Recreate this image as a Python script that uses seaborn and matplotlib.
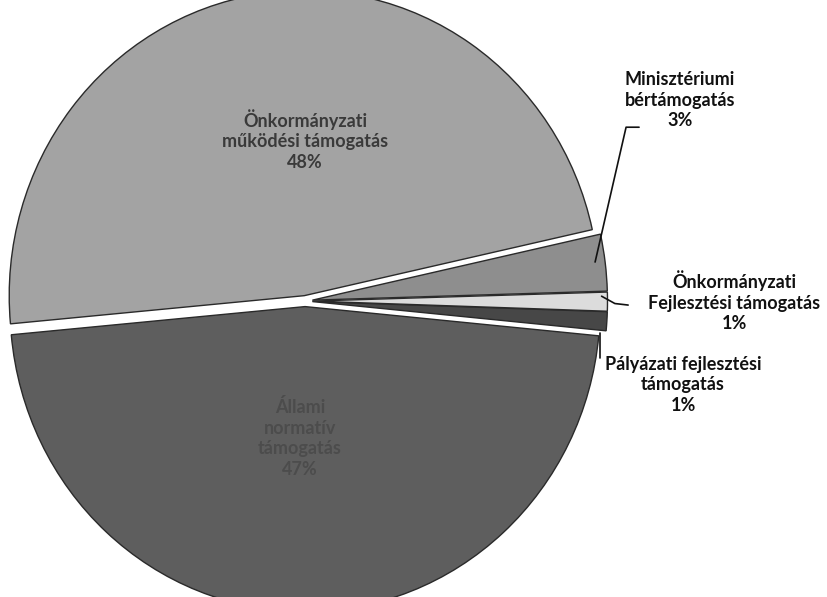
import matplotlib
matplotlib.use("Agg")
import matplotlib.pyplot as plt
import seaborn as sns

# slices in drawing order (counter-clockwise from the start angle)
labels = [
    "Önkormányzati\nműködési támogatás",
    "Állami\nnormatív\ntámogatás",
    "Pályázati fejlesztési\ntámogatás",
    "Önkormányzati\nFejlesztési támogatás",
    "Minisztériumi\nbértámogatás",
]
shares = [48, 47, 1, 1, 3]
colors = ["#a3a3a3", "#5e5e5e", "#474747", "#dcdcdc", "#8e8e8e"]

sns.set_theme(style="white")
plt.rcParams["font.family"] = ["Lato", "DejaVu Sans"]

fig = plt.figure(figsize=(8.27, 5.97), dpi=100)
ax = fig.add_axes([0, 0, 1, 1])

wedges, _ = ax.pie(
    shares,
    colors=colors,
    startangle=12.5,
    counterclock=True,
    explode=[0.018, 0.018, 0.025, 0.025, 0.025],
    wedgeprops=dict(edgecolor="#2a2a2a", linewidth=1.0),
)

# map the unit pie onto the slightly tall ellipse of the scan
ax.set_aspect("auto")
ax.set_xlim(-1.034, 1.769)
ax.set_ylim(-0.970, 0.987)
ax.axis("off")

txt = dict(ha="center", va="center", fontsize=13, fontweight="bold", linespacing=1.25)

ax.text(0.0, 0.528, f"{labels[0]}\n{shares[0]}%", color="#3a3a3a", **txt)
ax.text(-0.017, -0.449, f"{labels[1]}\n{shares[1]}%", color="#4c4c4c", **txt)
ax.text(1.271, 0.659, f"{labels[4]}\n{shares[4]}%", color="#111111", **txt)
ax.text(1.455, 0.0, f"{labels[3]}\n{shares[3]}%", color="#111111", **txt)
ax.text(1.281, -0.275, f"{labels[2]}\n{shares[2]}%", color="#111111", **txt)

# leader lines
ax.plot([1.132, 1.088, 0.983], [0.570, 0.570, 0.128], color="#111111", lw=1.2)
ax.plot([1.005, 1.05, 1.095], [0.016, -0.008, -0.013], color="#111111", lw=1.2)
ax.plot([1.0, 1.0], [-0.105, -0.187], color="#111111", lw=1.2)

fig.savefig("out.png", dpi=100, facecolor="white")
